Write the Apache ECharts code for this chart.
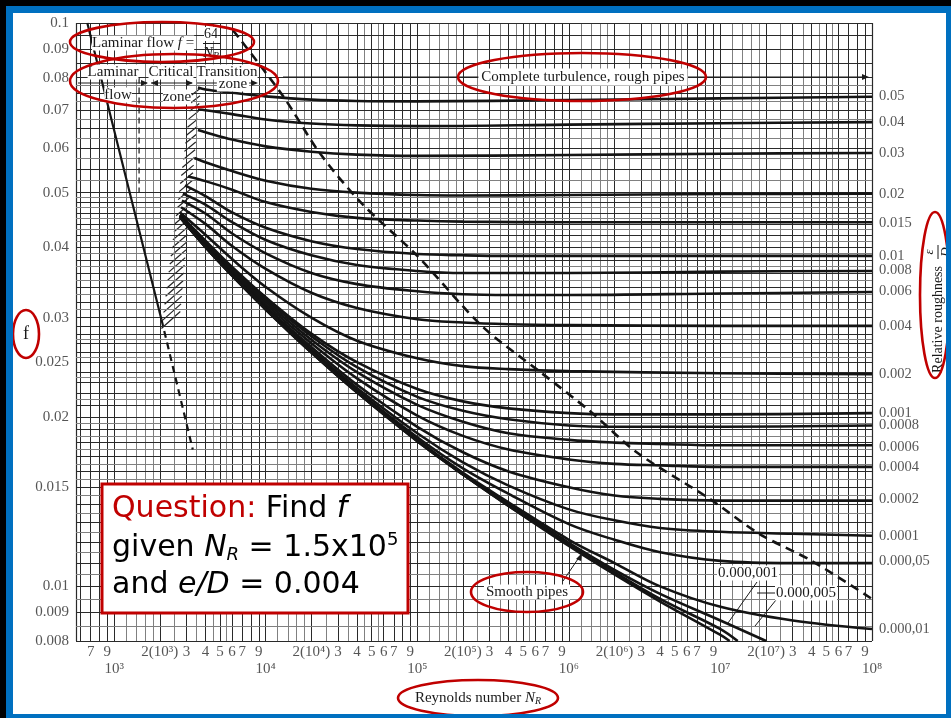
<!DOCTYPE html>
<html><head><meta charset="utf-8">
<script src="https://cdn.jsdelivr.net/npm/echarts@6/dist/echarts.min.js"></script>
<style>
html,body{margin:0;padding:0;background:#fff;}
#chart{position:absolute;left:0;top:0;width:951px;height:718px;}
</style></head><body>
<div id="chart"></div>
<script>
// ---------- axis ranges ----------
const X_MIN = 560, X_MAX = 1e8, Y_MIN = 0.008, Y_MAX = 0.1;

// ---------- tick labels ----------
const yTickVals = [0.1,0.09,0.08,0.07,0.06,0.05,0.04,0.03,0.025,0.02,0.015,0.01,0.009,0.008];
const yTickText = ['0.1','0.09','0.08','0.07','0.06','0.05','0.04','0.03','0.025','0.02','0.015','0.01','0.009','0.008'];
const xTickVals = [700,900,2e3,3e3,4e3,5e3,6e3,7e3,9e3,2e4,3e4,4e4,5e4,6e4,7e4,9e4,2e5,3e5,4e5,5e5,6e5,7e5,9e5,2e6,3e6,4e6,5e6,6e6,7e6,9e6,2e7,3e7,4e7,5e7,6e7,7e7,9e7];
const xTickText = ['7','9','2(10³)','3','4','5','6','7','9','2(10⁴)','3','4','5','6','7','9','2(10⁵)','3','4','5','6','7','9','2(10⁶)','3','4','5','6','7','9','2(10⁷)','3','4','5','6','7','9'];
const xDecVals = [1e3,1e4,1e5,1e6,1e7,1e8];
const xDecText = ['10³','10⁴','10⁵','10⁶','10⁷','10⁸'];

// ---------- grid line values ----------
const gridMultMajor = [1,2,3,4,5,6,7,8,9];
const gridMultMinor = [1.2,1.4,1.6,1.8,2.5,3.5,4.5,5.5];
const gridDecades = [1e2,1e3,1e4,1e5,1e6,1e7];
const gridYMajor = [0.008,0.009,0.01,0.011,0.012,0.013,0.014,0.015,0.016,0.017,0.018,0.019,0.02,0.021,0.022,0.023,0.024,0.025,0.026,0.027,0.028,0.029,0.03,0.032,0.034,0.036,0.038,0.04,0.042,0.044,0.046,0.048,0.05,0.055,0.06,0.065,0.07,0.075,0.08,0.085,0.09,0.095,0.1];
const gridYMinor = [0.0085,0.0095,0.0105,0.0115,0.0125,0.0135,0.0145,0.0155,0.0165,0.0175,0.0185,0.0195,0.0215,0.0235,0.0255,0.0275,0.031,0.033,0.035,0.037,0.039,0.041,0.043,0.045,0.047,0.049,0.0525,0.0575,0.0625,0.0675,0.0725,0.0775];

// ---------- relative roughness curves [Re, f] ----------
const roughLabels = ['0.05','0.04','0.03','0.02','0.015','0.01','0.008','0.006','0.004','0.002','0.001','0.0008','0.0006','0.0004','0.0002','0.0001','0.000,05','0.000,01'];
const roughLabelF = [0.0742,0.0667,0.0587,0.0497,0.0441,0.0386,0.0364,0.0334,0.0290,0.0238,0.0203,0.0193,0.0177,0.0163,0.0143,0.0123,0.0111,0.0084];

const c_05   = [[3570,0.0768],[4000,0.0762],[6000,0.0752],[1e4,0.0741],[2e4,0.0731],[4e4,0.0727],[1e5,0.0726],[1e6,0.0730],[1e7,0.0735],[1e8,0.0740]];
const c_04   = [[3570,0.0702],[4000,0.0700],[6000,0.0689],[1e4,0.0674],[2e4,0.0663],[4e4,0.0658],[1e5,0.0656],[1e6,0.0660],[1e7,0.0664],[1e8,0.0667]];
const c_03   = [[3570,0.0646],[4000,0.0640],[6000,0.0621],[1e4,0.0604],[2e4,0.0591],[4e4,0.0584],[1e5,0.0581],[1e6,0.0583],[1e7,0.0586],[1e8,0.0588]];
const c_02   = [[3380,0.0576],[4000,0.0566],[6000,0.0546],[1e4,0.0525],[2e4,0.0508],[4e4,0.0500],[1e5,0.0495],[2e5,0.0494],[1e6,0.0495],[1e7,0.0497],[1e8,0.0498]];
const c_015  = [[3070,0.0534],[4000,0.0524],[6000,0.0506],[1e4,0.0481],[2e4,0.0462],[4e4,0.0451],[1e5,0.0446],[2e5,0.0444],[1e6,0.0443],[1e7,0.0443],[1e8,0.0443]];
const c_01   = [[2930,0.0515],[4000,0.0493],[6000,0.0461],[1e4,0.0433],[2e4,0.0410],[4e4,0.0397],[1e5,0.0389],[2e5,0.0387],[4e5,0.0386],[1e6,0.0386],[1e7,0.0386],[1e8,0.0386]];
const c_008  = [[2840,0.0498],[4000,0.0476],[6000,0.0443],[1e4,0.0412],[2e4,0.0387],[4e4,0.0372],[1e5,0.0363],[2e5,0.0360],[4e5,0.0360],[1e6,0.0360],[1e7,0.0362],[1e8,0.0363]];
const c_006  = [[2800,0.0484],[4000,0.0459],[6000,0.0423],[1e4,0.0390],[2e4,0.0360],[4e4,0.0344],[1e5,0.0334],[2e5,0.0330],[4e5,0.0329],[1e6,0.0329],[1e7,0.0331],[1e8,0.0333]];
const c_004  = [[2760,0.0471],[4000,0.0440],[6000,0.0402],[1e4,0.0366],[2e4,0.0332],[4e4,0.0312],[1e5,0.0298],[2e5,0.0294],[4e5,0.0292],[1e6,0.0291],[1e7,0.0290],[1e8,0.0290]];
const c_002  = [[2720,0.0461],[4000,0.0421],[6000,0.0381],[1e4,0.0340],[2e4,0.0300],[4e4,0.0273],[1e5,0.0254],[2e5,0.0246],[4e5,0.0243],[1e6,0.0241],[1e7,0.0239],[1e8,0.0238]];
const c_001  = [[2720,0.0457],[4000,0.0411],[6000,0.0369],[1e4,0.0326],[2e4,0.0281],[4e4,0.0250],[1e5,0.0224],[2e5,0.0213],[4e5,0.0207],[1e6,0.0203],[2e6,0.0202],[1e7,0.0202],[1e8,0.0203]];
const c_0008 = [[2720,0.0456],[4000,0.0409],[6000,0.0366],[1e4,0.0323],[2e4,0.0278],[4e4,0.0245],[1e5,0.0217],[2e5,0.0205],[4e5,0.0198],[1e6,0.0193],[2e6,0.0192],[1e7,0.0192],[1e8,0.0193]];
const c_0006 = [[2720,0.0455],[4000,0.0407],[6000,0.0364],[1e4,0.0320],[2e4,0.0274],[4e4,0.0240],[1e5,0.0210],[2e5,0.0196],[4e5,0.0187],[1e6,0.0182],[2e6,0.0180],[4e6,0.0179],[1e7,0.0178],[1e8,0.0178]];
const c_0004 = [[2720,0.0455],[4000,0.0405],[6000,0.0362],[1e4,0.0317],[2e4,0.0270],[4e4,0.0234],[1e5,0.0201],[2e5,0.0185],[4e5,0.0175],[1e6,0.0168],[2e6,0.0165],[4e6,0.0164],[1e7,0.0163],[1e8,0.0163]];
const c_0002 = [[2720,0.0454],[4000,0.0404],[6000,0.0360],[1e4,0.0314],[2e4,0.0266],[4e4,0.0228],[1e5,0.0192],[2e5,0.0173],[4e5,0.0160],[1e6,0.0150],[2e6,0.0145],[4e6,0.0143],[1e7,0.0142],[3e7,0.0142],[1e8,0.0142]];
const c_0001 = [[2720,0.0454],[4000,0.0403],[6000,0.0359],[1e4,0.0313],[2e4,0.0263],[4e4,0.0225],[1e5,0.0187],[2e5,0.0166],[4e5,0.0151],[1e6,0.0137],[2e6,0.0131],[4e6,0.0127],[1e7,0.0125],[3e7,0.0124],[1e8,0.0123]];
const c_00005= [[2720,0.0453],[4000,0.0402],[6000,0.0358],[1e4,0.0312],[2e4,0.0262],[4e4,0.0223],[1e5,0.0184],[2e5,0.0162],[4e5,0.0146],[1e6,0.0129],[2e6,0.0121],[4e6,0.0115],[1e7,0.0111],[3e7,0.0110],[1e8,0.0110]];
const c_00001= [[2720,0.0453],[4000,0.0401],[6000,0.0357],[1e4,0.0311],[2e4,0.0261],[4e4,0.0222],[1e5,0.0182],[2e5,0.0159],[4e5,0.0141],[1e6,0.0121],[2e6,0.0110],[4e6,0.0100],[1e7,0.0092],[3e7,0.0087],[1e8,0.0084]];
const c_000005=[[2720,0.0452],[4000,0.0401],[6000,0.0357],[1e4,0.0311],[2e4,0.0261],[4e4,0.0221],[1e5,0.0182],[2e5,0.0158],[4e5,0.0140],[1e6,0.01195],[2e6,0.0107],[4e6,0.0097],[1e7,0.0087],[2e7,0.0080]];
const c_000001=[[2720,0.0452],[4000,0.0400],[6000,0.0356],[1e4,0.0310],[2e4,0.0260],[4e4,0.0221],[1e5,0.0181],[2e5,0.0158],[4e5,0.0139],[1e6,0.0119],[2e6,0.0106],[4e6,0.0095],[1e7,0.0084],[1.3e7,0.0080]];
const c_smooth =[[2720,0.0452],[4000,0.0400],[6000,0.0356],[1e4,0.0310],[2e4,0.0260],[4e4,0.0221],[1e5,0.0181],[2e5,0.0158],[4e5,0.0139],[1e6,0.0118],[2e6,0.0105],[4e6,0.0094],[1e7,0.0082],[1.15e7,0.0080]];

const curves = [c_05,c_04,c_03,c_02,c_015,c_01,c_008,c_006,c_004,c_002,c_001,c_0008,c_0006,c_0004,c_0002,c_0001,c_00005,c_00001,c_000005,c_000001,c_smooth];

// ---------- laminar / boundaries ----------
const laminar = [[665,0.1],[2050,0.0298]];
const laminarDash = [[2050,0.0298],[3300,0.0175]];
const laminarBound = [[1460,0.08],[1460,0.05]];
const turbBound = [[6080,0.0971],[1.3e4,0.0742],[22780,0.0587],[43150,0.0478],[1.0e5,0.0386],[2.7e5,0.0289],[6.5e5,0.0240],[1.4e6,0.0204],[2.8e6,0.0173],[8.5e6,0.0143],[1.8e7,0.0124],[4e7,0.0111],[1e8,0.0095]];
const criticalBand = [[2050,0.0287],[2650,0.0287],[3650,0.077],[3300,0.077]]; // BL, BR, TR, TL

// ---------- build ----------
const chart = echarts.init(document.getElementById('chart'));
const SERIF = '"Liberation Serif","DejaVu Serif",serif';
const GRID_DARK = '#2a2a2a', GRID_LIGHT = '#808080';

const gridLines = [];
gridDecades.forEach(d => {
  gridMultMajor.forEach(m => { const v = m*d; if (v >= X_MIN && v <= X_MAX) gridLines.push({xAxis: v, lineStyle:{color:GRID_DARK, width:1, type:'solid'}}); });
  gridMultMinor.forEach(m => { const v = m*d; if (v >= X_MIN && v <= X_MAX) gridLines.push({xAxis: v, lineStyle:{color:GRID_LIGHT, width:1, type:'solid'}}); });
});
gridLines.push({xAxis: X_MIN, lineStyle:{color:GRID_DARK, width:1.2, type:'solid'}});
gridLines.push({xAxis: X_MAX, lineStyle:{color:GRID_DARK, width:1.2, type:'solid'}});
gridYMajor.forEach(v => gridLines.push({yAxis: v, lineStyle:{color:GRID_DARK, width:1, type:'solid'}}));
gridYMinor.forEach(v => gridLines.push({yAxis: v, lineStyle:{color:GRID_LIGHT, width:1, type:'solid'}}));

const series = [];
series.push({
  type:'line', data:[[1000,0.05]], symbol:'none', silent:true, z:1, lineStyle:{width:0},
  markLine:{silent:true, precision:10, symbol:['none','none'], label:{show:false}, animation:false, lineStyle:{type:'solid'}, emphasis:{disabled:true}, data: gridLines}
});
curves.forEach((c, i) => {
  series.push({type:'line', name: i < roughLabels.length ? roughLabels[i] : 'smooth', data:c, symbol:'none', smooth:0.35,
    lineStyle:{color:'#141414', width:2.6}, z:5, silent:true});
});
series.push({type:'line', data:laminar, symbol:'none', lineStyle:{color:'#141414', width:2.2}, z:5, silent:true});
series.push({type:'line', data:laminarDash, symbol:'none', lineStyle:{color:'#141414', width:2.2, type:[7,5]}, z:5, silent:true});
series.push({type:'line', data:laminarBound, symbol:'none', lineStyle:{color:'#141414', width:1.2, type:[6,4]}, z:5, silent:true});
series.push({type:'line', data:turbBound, symbol:'none', smooth:0.3, lineStyle:{color:'#141414', width:2.6, type:[9,6]}, z:6, silent:true});
series.push({
  type:'custom', data:[criticalBand[0]], silent:true, z:4, clip:false,
  renderItem: function(params, api){
    const bl = api.coord(criticalBand[0]), br = api.coord(criticalBand[1]), tr = api.coord(criticalBand[2]), tl = api.coord(criticalBand[3]);
    const children = [];
    const n = 30;
    for (let i = 0; i <= n; i++) {
      const t = i/n;
      const y = bl[1] + (tl[1]-bl[1])*t;
      const xl = bl[0] + (tl[0]-bl[0])*t;
      const xr = br[0] + (tr[0]-br[0])*t;
      const w = xr - xl;
      if (y - w < tl[1] - 1) continue;
      children.push({type:'line', shape:{x1:xl, y1:y, x2:xr+2, y2:y-w}, style:{stroke:'#222', lineWidth:1.2}});
    }
    return {type:'group', children};
  }
});
// tick labels
const lblBase = {fontFamily:SERIF, fontSize:15, color:'#2b2b2b'};
series.push({type:'scatter', data:yTickVals.map(v=>[X_MIN,v]), symbolSize:0, silent:true, clip:false, z:10,
  label:Object.assign({show:true, position:'left', distance:7, formatter:p=>yTickText[p.dataIndex]}, lblBase)});
series.push({type:'scatter', data:xTickVals.map(v=>[v,Y_MIN]), symbolSize:0, silent:true, clip:false, z:10,
  label:Object.assign({show:true, position:'bottom', distance:4, formatter:p=>xTickText[p.dataIndex]}, lblBase)});
series.push({type:'scatter', data:xDecVals.map(v=>[v,Y_MIN]), symbolSize:0, silent:true, clip:false, z:10,
  label:Object.assign({show:true, position:'bottom', distance:21, formatter:p=>xDecText[p.dataIndex]}, lblBase)});
series.push({type:'scatter', data:roughLabelF.map(v=>[X_MAX,v]), symbolSize:0, silent:true, clip:false, z:10,
  label:Object.assign({show:true, position:'right', distance:7, formatter:p=>roughLabels[p.dataIndex]}, lblBase, {fontSize:14.5})});

// ---------- annotations (pixel layer) ----------
const RED = '#C00000', BLUE = '#0070C0', INK = '#1a1a1a';
function txt(x, y, text, opt) {
  return Object.assign({type:'text', x, y, z:50, style:Object.assign({text, font:'15px '+SERIF, fill:INK, align:'center', verticalAlign:'middle', textAlign:'center', textVerticalAlign:'middle'}, opt||{})});
}
function ln(x1,y1,x2,y2,w){ return {type:'line', z:50, shape:{x1,y1,x2,y2}, style:{stroke:INK, lineWidth:w||1}}; }
function arrowR(x,y){ return {type:'polygon', z:50, shape:{points:[[x,y],[x-7,y-3],[x-7,y+3]]}, style:{fill:INK}}; }
function arrowL(x,y){ return {type:'polygon', z:50, shape:{points:[[x,y],[x+7,y-3],[x+7,y+3]]}, style:{fill:INK}}; }
function ell(cx,cy,rx,ry){ return {type:'ellipse', z:60, shape:{cx,cy,rx,ry}, style:{fill:null, stroke:RED, lineWidth:2.6}}; }
const richSerif = {
  n:{font:'15px '+SERIF, fill:INK},
  i:{font:'italic 15px '+SERIF, fill:INK},
  s:{font:'italic 10px '+SERIF, fill:INK, verticalAlign:'bottom', padding:[6,0,0,0]}
};
const QF = '"DejaVu Sans","Noto Sans",sans-serif';
const richQ = {
  r:{font:'30px '+QF, fill:RED},
  n:{font:'30px '+QF, fill:'#000'},
  i:{font:'italic 30px '+QF, fill:'#000'},
  sb:{font:'italic 18px '+QF, fill:'#000', padding:[15,0,0,0]},
  sp:{font:'18px '+QF, fill:'#000', padding:[0,0,15,0]}
};

const graphic = [
  // frame
  {type:'rect', z:200, shape:{x:0,y:0,width:951,height:6}, style:{fill:'#000'}},
  {type:'rect', z:200, shape:{x:0,y:0,width:6,height:718}, style:{fill:'#000'}},
  {type:'rect', z:200, shape:{x:6,y:6,width:945,height:7}, style:{fill:BLUE}},
  {type:'rect', z:200, shape:{x:6,y:6,width:7,height:712}, style:{fill:BLUE}},
  {type:'rect', z:200, shape:{x:6,y:714,width:945,height:4}, style:{fill:BLUE}},
  {type:'rect', z:200, shape:{x:946,y:6,width:5,height:712}, style:{fill:BLUE}},

  // Laminar flow f = 64/N_R
  {type:'text', x:92, y:43, z:55, style:{text:'{n|Laminar flow }{i|f}{n| =}', rich:richSerif, align:'left', verticalAlign:'middle', textAlign:'left', textVerticalAlign:'middle', backgroundColor:'#fff'}},
  txt(211, 34, '64', {font:'14px '+SERIF, backgroundColor:'#fff'}),
  ln(203, 43.5, 220, 43.5, 1),
  {type:'text', x:211, y:53, z:55, style:{text:'{i|N}{s|R}', rich:richSerif, align:'center', verticalAlign:'middle', textAlign:'center', textVerticalAlign:'middle'}},

  // zone labels
  txt(113, 72, 'Laminar', {backgroundColor:'#fff'}),
  txt(118, 95, 'flow', {backgroundColor:'#fff'}),
  txt(171, 72, 'Critical', {backgroundColor:'#fff'}),
  txt(177, 97, 'zone', {backgroundColor:'#fff'}),
  txt(227, 72, 'Transition', {backgroundColor:'#fff'}),
  ln(78, 83, 147, 83, 1), arrowR(148, 83),
  ln(151, 83, 192, 83, 1), arrowL(151, 83), arrowR(193, 83),
  ln(197, 83, 256, 83, 1), arrowR(258, 83),
  txt(233, 84, 'zone', {backgroundColor:'#fff', padding:[0,2]}),

  // complete turbulence
  ln(283, 77, 866, 77, 1), arrowR(869, 77),
  txt(583, 77, 'Complete turbulence, rough pipes', {backgroundColor:'#fff', padding:[1,3]}),

  // smooth pipes
  txt(527, 592, 'Smooth pipes', {backgroundColor:'#fff', padding:[0,2]}),
  ln(563, 581, 580, 556, 1),
  {type:'polygon', z:50, shape:{points:[[582,553],[576,559],[581,561]]}, style:{fill:INK}},

  // small roughness labels
  ln(757, 582, 728, 623, 1),
  txt(748, 573, '0.000,001', {backgroundColor:'#fff', padding:[0,1]}),
  ln(757, 593, 776, 593, 1),
  ln(776, 600, 755, 626, 1),
  txt(806, 593, '0.000,005', {backgroundColor:'#fff', padding:[0,1]}),

  // axis titles
  txt(26, 334, 'f', {font:'18px '+SERIF}),
  {type:'text', x:478, y:698, z:55, style:{text:'{n|Reynolds number }{i|N}{s|R}', rich:richSerif, align:'center', verticalAlign:'middle', textAlign:'center', textVerticalAlign:'middle'}},
  {type:'group', x:938, y:300, rotation:Math.PI/2, z:55, children:[
    {type:'text', x:34, y:0, z:55, style:{text:'Relative roughness', font:'14px '+SERIF, fill:INK, align:'right', verticalAlign:'middle', textAlign:'right', textVerticalAlign:'middle'}},
    {type:'text', x:48, y:-8, z:55, style:{text:'ε', font:'italic 13px '+SERIF, fill:INK, align:'center', verticalAlign:'middle', textAlign:'center', textVerticalAlign:'middle'}},
    {type:'line', z:55, shape:{x1:41, y1:0, x2:55, y2:0}, style:{stroke:INK, lineWidth:1}},
    {type:'text', x:48, y:8, z:55, style:{text:'D', font:'italic 13px '+SERIF, fill:INK, align:'center', verticalAlign:'middle', textAlign:'center', textVerticalAlign:'middle'}}
  ]},

  // ellipses
  ell(162, 42, 92, 20),
  ell(174, 81, 104, 27),
  ell(582, 77, 124, 24),
  ell(935, 295, 15, 83),
  ell(26, 334, 13, 24),
  ell(527, 592, 56, 20),
  ell(478, 698, 80, 18),

  // question box
  {type:'rect', z:80, shape:{x:102, y:484, width:306, height:129}, style:{fill:'#fff', stroke:RED, lineWidth:3}},
  {type:'text', x:112, y:509, z:81, style:{text:'{r|Question:}{n| Find }{i|f}', rich:richQ, align:'left', verticalAlign:'middle', textAlign:'left', textVerticalAlign:'middle'}},
  {type:'text', x:112, y:548, z:81, style:{text:'{n|given }{i|N}{sb|R}{n| = 1.5x10}{sp|5}', rich:richQ, align:'left', verticalAlign:'middle', textAlign:'left', textVerticalAlign:'middle'}},
  {type:'text', x:112, y:585, z:81, style:{text:'{n|and }{i|e/D}{n| = 0.004}', rich:richQ, align:'left', verticalAlign:'middle', textAlign:'left', textVerticalAlign:'middle'}}
];

chart.setOption({
  animation:false,
  backgroundColor:'#fff',
  grid:{left:76, right:79, top:23, bottom:77, containLabel:false},
  xAxis:{type:'log', logBase:10, min:X_MIN, max:X_MAX, axisLabel:{show:false}, axisTick:{show:false}, axisLine:{show:false}, splitLine:{show:false}, minorTick:{show:false}},
  yAxis:{type:'log', logBase:10, min:Y_MIN, max:Y_MAX, axisLabel:{show:false}, axisTick:{show:false}, axisLine:{show:false}, splitLine:{show:false}},
  series,
  graphic
});
</script>
</body></html>
